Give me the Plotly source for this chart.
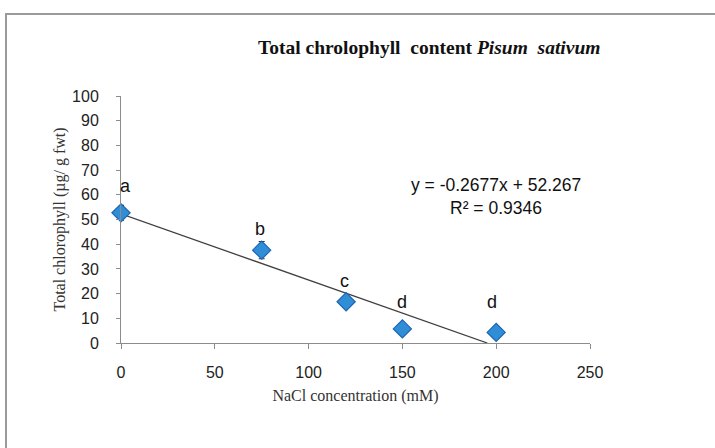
import plotly.graph_objects as go

nacl_mM = [0, 75, 120, 150, 200]
chlorophyll = [52.7, 37.6, 16.7, 5.7, 4.3]
error = [3.0, 3.5, 1.0, 1.0, 1.0]
letters = ["a", "b", "c", "d", "d"]
slope = -0.2677
intercept = 52.267
r2 = 0.9346
x_ticks = [0, 50, 100, 150, 200, 250]
y_ticks = [0, 10, 20, 30, 40, 50, 60, 70, 80, 90, 100]

L, R, T, B = 121, 125, 96, 105
W, H = 715, 448
pw, ph = W - L - R, H - T - B

SANS = "Liberation Sans, Arial"
SERIF = "Liberation Serif, Times New Roman"

fig = go.Figure()

x_end = -intercept / slope
fig.add_trace(go.Scatter(
    x=[0, x_end], y=[intercept, intercept + slope * x_end],
    mode="lines", line=dict(color="#404040", width=1.3),
    showlegend=False, hoverinfo="skip"))

fig.add_trace(go.Scatter(
    x=nacl_mM, y=chlorophyll, mode="markers",
    marker=dict(symbol="diamond", size=14, color="#2F8ED6",
                line=dict(color="#1E64B4", width=1.2)),
    error_y=dict(type="data", array=error, visible=True,
                 color="#333333", thickness=1.2, width=3),
    cliponaxis=False, showlegend=False))

# letter annotations placed above the points
letter_pos = [(2.5, 63.5), (74, 46), (119, 25), (150, 16.5), (198, 16.5)]
for (xa, ya), t in zip(letter_pos, letters):
    fig.add_annotation(x=xa, y=ya, text=t, showarrow=False,
                       font=dict(family=SANS, size=18, color="#111111"))

fig.add_annotation(x=200, y=64, text="y = -0.2677x + 52.267", showarrow=False,
                   font=dict(family=SANS, size=17.5, color="#111111"))
fig.add_annotation(x=200, y=54.5, text="R² = " + str(r2), showarrow=False,
                   font=dict(family=SANS, size=17.5, color="#111111"))

# title
fig.add_annotation(xref="paper", yref="paper",
                   x=(429 - L) / pw, y=(H - B - 48) / ph,
                   xanchor="center", yanchor="middle",
                   text="<b>Total chrolophyll&nbsp; content <i>Pisum&nbsp; sativum</i></b>",
                   showarrow=False,
                   font=dict(family=SERIF, size=19.5, color="#111111"))

# frame border
bx0 = (6 - L) / pw
by1 = (H - B - 14) / ph
bx1 = (W + 5 - L) / pw
by0 = (H - B - (H + 5)) / ph
fig.add_shape(type="rect", xref="paper", yref="paper",
              x0=bx0, x1=bx1, y0=by0, y1=by1,
              line=dict(color="#9A9A9A", width=2), fillcolor="rgba(0,0,0,0)",
              layer="below")

fig.update_layout(
    width=W, height=H,
    margin=dict(l=L, r=R, t=T, b=B),
    paper_bgcolor="white", plot_bgcolor="white",
    xaxis=dict(range=[0, 250], tickvals=x_ticks, showgrid=False, zeroline=False,
               showline=True, linecolor="#8C8C8C", linewidth=1,
               ticks="outside", ticklen=5, tickcolor="#8C8C8C",
               ticklabelstandoff=10,
               tickfont=dict(family=SANS, size=16, color="#222222"),
               title=dict(text="NaCl concentration (mM)", standoff=9,
                          font=dict(family=SERIF, size=16, color="#333333"))),
    yaxis=dict(range=[0, 100], tickvals=y_ticks, showgrid=False, zeroline=False,
               showline=True, linecolor="#8C8C8C", linewidth=1,
               ticks="outside", ticklen=4, tickcolor="#8C8C8C",
               ticklabelstandoff=14,
               tickfont=dict(family=SANS, size=16, color="#222222"),
               title=dict(text="Total chlorophyll (µg/ g fwt)", standoff=2,
                          font=dict(family=SERIF, size=16, color="#333333"))),
)

fig.write_html("out.html", config={"displayModeBar": False},
               post_script="document.body.style.margin='0';document.body.style.overflow='hidden';")
